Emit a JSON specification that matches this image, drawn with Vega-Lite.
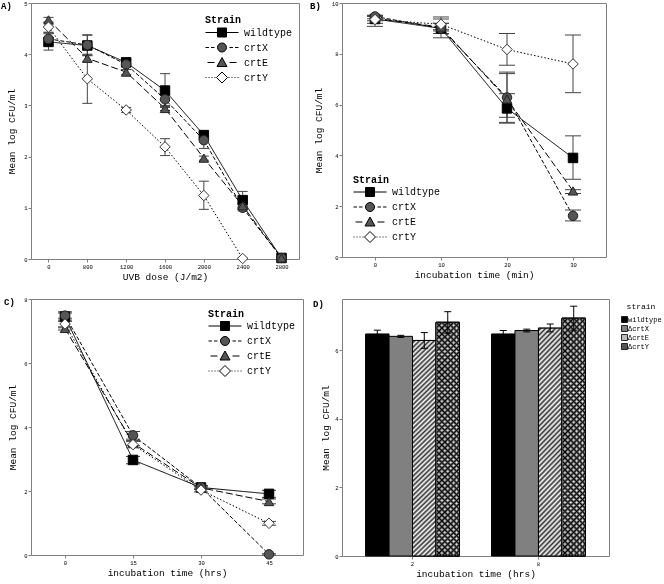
{
  "$schema": "https://vega.github.io/schema/vega-lite/v6.json",
  "padding": 0,
  "background": "white",
  "spacing": 14,
  "datasets": {
    "A": [
      {"strain": "wildtype", "x": 0, "v": 4.24, "lo": 4.08, "hi": 4.40},
      {"strain": "wildtype", "x": 800, "v": 4.17, "lo": 3.97, "hi": 4.37},
      {"strain": "wildtype", "x": 1200, "v": 3.84, "lo": 3.76, "hi": 3.92},
      {"strain": "wildtype", "x": 1600, "v": 3.29, "lo": 2.96, "hi": 3.62},
      {"strain": "wildtype", "x": 2000, "v": 2.42, "lo": 2.36, "hi": 2.48},
      {"strain": "wildtype", "x": 2400, "v": 1.15, "lo": 0.98, "hi": 1.32},
      {"strain": "wildtype", "x": 2800, "v": 0.02, "lo": 0, "hi": 0.04},
      {"strain": "crtX", "x": 0, "v": 4.30, "lo": 4.18, "hi": 4.42},
      {"strain": "crtX", "x": 800, "v": 4.18, "lo": 3.98, "hi": 4.38},
      {"strain": "crtX", "x": 1200, "v": 3.80, "lo": 3.70, "hi": 3.90},
      {"strain": "crtX", "x": 1600, "v": 3.12, "lo": 3.00, "hi": 3.24},
      {"strain": "crtX", "x": 2000, "v": 2.32, "lo": 2.16, "hi": 2.46},
      {"strain": "crtX", "x": 2400, "v": 1.00, "lo": 0.94, "hi": 1.06},
      {"strain": "crtX", "x": 2800, "v": 0.02, "lo": 0, "hi": 0.04},
      {"strain": "crtE", "x": 0, "v": 4.67, "lo": 4.62, "hi": 4.72},
      {"strain": "crtE", "x": 800, "v": 3.92, "lo": 3.86, "hi": 3.98},
      {"strain": "crtE", "x": 1200, "v": 3.65, "lo": 3.60, "hi": 3.70},
      {"strain": "crtE", "x": 1600, "v": 2.94, "lo": 2.90, "hi": 2.98},
      {"strain": "crtE", "x": 2000, "v": 1.97, "lo": 1.93, "hi": 2.01},
      {"strain": "crtE", "x": 2400, "v": 1.04, "lo": 0.98, "hi": 1.10},
      {"strain": "crtE", "x": 2800, "v": 0.02, "lo": 0, "hi": 0.04},
      {"strain": "crtY", "x": 0, "v": 4.53, "lo": 4.43, "hi": 4.63},
      {"strain": "crtY", "x": 800, "v": 3.52, "lo": 3.04, "hi": 4.00},
      {"strain": "crtY", "x": 1200, "v": 2.91, "lo": 2.86, "hi": 2.96},
      {"strain": "crtY", "x": 1600, "v": 2.19, "lo": 2.02, "hi": 2.35},
      {"strain": "crtY", "x": 2000, "v": 1.24, "lo": 0.97, "hi": 1.52},
      {"strain": "crtY", "x": 2400, "v": 0.01, "lo": 0, "hi": 0.02}
    ],
    "B": [
      {"strain": "wildtype", "x": 0, "v": 9.37, "lo": 9.2, "hi": 9.5},
      {"strain": "wildtype", "x": 10, "v": 9.0, "lo": 8.63, "hi": 9.37},
      {"strain": "wildtype", "x": 20, "v": 5.85, "lo": 5.27, "hi": 6.43},
      {"strain": "wildtype", "x": 30, "v": 3.9, "lo": 3.06, "hi": 4.77},
      {"strain": "crtX", "x": 0, "v": 9.47, "lo": 9.38, "hi": 9.52},
      {"strain": "crtX", "x": 10, "v": 9.0, "lo": 8.8, "hi": 9.2},
      {"strain": "crtX", "x": 20, "v": 6.28, "lo": 5.3, "hi": 7.28},
      {"strain": "crtX", "x": 30, "v": 1.62, "lo": 1.42, "hi": 1.85},
      {"strain": "crtE", "x": 0, "v": 9.4, "lo": 9.3, "hi": 9.5},
      {"strain": "crtE", "x": 10, "v": 9.05, "lo": 8.9, "hi": 9.2},
      {"strain": "crtE", "x": 20, "v": 6.22, "lo": 5.5, "hi": 7.22},
      {"strain": "crtE", "x": 30, "v": 2.6, "lo": 2.5, "hi": 2.65},
      {"strain": "crtY", "x": 0, "v": 9.35, "lo": 9.08, "hi": 9.47},
      {"strain": "crtY", "x": 10, "v": 9.16, "lo": 8.95, "hi": 9.45},
      {"strain": "crtY", "x": 20, "v": 8.17, "lo": 7.55, "hi": 8.8},
      {"strain": "crtY", "x": 30, "v": 7.6, "lo": 6.47, "hi": 8.74}
    ],
    "C": [
      {"strain": "wildtype", "x": 0, "v": 7.45, "lo": 7.3, "hi": 7.6},
      {"strain": "wildtype", "x": 15, "v": 2.97, "lo": 2.85, "hi": 3.08},
      {"strain": "wildtype", "x": 30, "v": 2.11, "lo": 2.05, "hi": 2.17},
      {"strain": "wildtype", "x": 45, "v": 1.91, "lo": 1.8, "hi": 2.02},
      {"strain": "crtX", "x": 0, "v": 7.48, "lo": 7.4, "hi": 7.56},
      {"strain": "crtX", "x": 15, "v": 3.74, "lo": 3.62, "hi": 3.86},
      {"strain": "crtX", "x": 30, "v": 2.11, "lo": 2.05, "hi": 2.16},
      {"strain": "crtX", "x": 45, "v": 0.02, "lo": 0, "hi": 0.04},
      {"strain": "crtE", "x": 0, "v": 7.08, "lo": 7.03, "hi": 7.13},
      {"strain": "crtE", "x": 15, "v": 3.5, "lo": 3.42, "hi": 3.58},
      {"strain": "crtE", "x": 30, "v": 2.1, "lo": 2.05, "hi": 2.15},
      {"strain": "crtE", "x": 45, "v": 1.67, "lo": 1.6, "hi": 1.75},
      {"strain": "crtY", "x": 0, "v": 7.22, "lo": 7.1, "hi": 7.34},
      {"strain": "crtY", "x": 15, "v": 3.45, "lo": 3.35, "hi": 3.55},
      {"strain": "crtY", "x": 30, "v": 2.03, "lo": 1.97, "hi": 2.09},
      {"strain": "crtY", "x": 45, "v": 0.99, "lo": 0.93, "hi": 1.05}
    ],
    "D": [
      {"strain": "wildtype", "t": "2", "v": 6.48, "lo": 6.37, "hi": 6.59},
      {"strain": "ΔcrtX", "t": "2", "v": 6.41, "lo": 6.38, "hi": 6.44},
      {"strain": "ΔcrtE", "t": "2", "v": 6.29, "lo": 6.06, "hi": 6.52},
      {"strain": "ΔcrtY", "t": "2", "v": 6.82, "lo": 6.5, "hi": 7.13},
      {"strain": "wildtype", "t": "8", "v": 6.48, "lo": 6.38, "hi": 6.58},
      {"strain": "ΔcrtX", "t": "8", "v": 6.58, "lo": 6.54, "hi": 6.62},
      {"strain": "ΔcrtE", "t": "8", "v": 6.65, "lo": 6.54, "hi": 6.77},
      {"strain": "ΔcrtY", "t": "8", "v": 6.94, "lo": 6.59, "hi": 7.29}
    ]
  },
  "vconcat": [
    {
      "spacing": 9,
      "hconcat": [
        {
          "title": {"text": "A)", "dx": -30},
          "width": 268, "height": 256,
          "data": {"name": "A"},
          "resolve": {"scale": {"shape": "independent", "fill": "independent"}},
          "layer": [
            {"mark": {"type": "line", "color": "#000", "strokeWidth": 1},
             "encoding": {
               "x": {"field": "x", "type": "ordinal", "scale": {"type": "point", "padding": 0.45}, "axis": {"title": "UVB dose (J/m2)", "labelAngle": 0}},
               "y": {"field": "v", "type": "quantitative", "scale": {"domain": [0, 5], "nice": false}, "title": "Mean log CFU/ml", "axis": {"values": [0, 1, 2, 3, 4, 5], "titlePadding": 7}},
               "strokeDash": {"field": "strain", "type": "nominal", "scale": {"domain": ["wildtype", "crtX", "crtE", "crtY"], "range": [[1, 0], [4, 2], [7, 3], [1.5, 2]]}, "legend": null}
             }},
            {"mark": {"type": "rule", "color": "#444", "strokeWidth": 1},
             "encoding": {
               "x": {"field": "x", "type": "ordinal", "scale": {"type": "point", "padding": 0.45}},
               "y": {"field": "lo", "type": "quantitative", "scale": {"domain": [0, 5], "nice": false}, "title": "Mean log CFU/ml"},
               "y2": {"field": "hi"},
               "detail": {"field": "strain"}
             }},
            {"mark": {"type": "tick", "color": "#444", "size": 10, "thickness": 1, "orient": "horizontal", "opacity": 1},
             "encoding": {
               "x": {"field": "x", "type": "ordinal", "scale": {"type": "point", "padding": 0.45}},
               "y": {"field": "lo", "type": "quantitative", "scale": {"domain": [0, 5], "nice": false}, "title": "Mean log CFU/ml"}
             }},
            {"mark": {"type": "tick", "color": "#444", "size": 10, "thickness": 1, "orient": "horizontal", "opacity": 1},
             "encoding": {
               "x": {"field": "x", "type": "ordinal", "scale": {"type": "point", "padding": 0.45}},
               "y": {"field": "hi", "type": "quantitative", "scale": {"domain": [0, 5], "nice": false}, "title": "Mean log CFU/ml"}
             }},
            {"transform": [{"filter": "datum.strain === 'wildtype'"}],
             "mark": {"type": "point", "shape": "square", "filled": true, "opacity": 1, "size": 90, "fill": "#000", "stroke": "#000", "strokeWidth": 1},
             "encoding": {
               "x": {"field": "x", "type": "ordinal", "scale": {"type": "point", "padding": 0.45}},
               "y": {"field": "v", "type": "quantitative", "scale": {"domain": [0, 5], "nice": false}, "title": "Mean log CFU/ml"}
             }},
            {"transform": [{"filter": "datum.strain === 'crtX'"}],
             "mark": {"type": "point", "shape": "circle", "filled": true, "opacity": 1, "size": 90, "fill": "#555", "stroke": "#222", "strokeWidth": 1},
             "encoding": {
               "x": {"field": "x", "type": "ordinal", "scale": {"type": "point", "padding": 0.45}},
               "y": {"field": "v", "type": "quantitative", "scale": {"domain": [0, 5], "nice": false}, "title": "Mean log CFU/ml"}
             }},
            {"transform": [{"filter": "datum.strain === 'crtE'"}],
             "mark": {"type": "point", "shape": "triangle-up", "filled": true, "opacity": 1, "size": 90, "fill": "#555", "stroke": "#222", "strokeWidth": 1},
             "encoding": {
               "x": {"field": "x", "type": "ordinal", "scale": {"type": "point", "padding": 0.45}},
               "y": {"field": "v", "type": "quantitative", "scale": {"domain": [0, 5], "nice": false}, "title": "Mean log CFU/ml"}
             }},
            {"transform": [{"filter": "datum.strain === 'crtY'"}],
             "mark": {"type": "point", "shape": "diamond", "filled": true, "opacity": 1, "size": 110, "fill": "#fff", "stroke": "#333", "strokeWidth": 1},
             "encoding": {
               "x": {"field": "x", "type": "ordinal", "scale": {"type": "point", "padding": 0.45}},
               "y": {"field": "v", "type": "quantitative", "scale": {"domain": [0, 5], "nice": false}, "title": "Mean log CFU/ml"}
             }},
            {"data": {"values": []},
             "mark": {"type": "point", "filled": true, "opacity": 1, "size": 100, "stroke": "#000", "strokeWidth": 1},
             "encoding": {
               "shape": {"field": "strain", "type": "nominal", "scale": {"domain": ["wildtype", "crtX", "crtE", "crtY"], "range": ["M2.3,-1.4L2.3,-1.4M2.3,1.4L2.3,1.4M-1,0H1.4M3.2,0H5.6M1.4,-0.9H3.2V0.9H1.4Z", "M2.3,-1.4L2.3,-1.4M2.3,1.4L2.3,1.4M-1,0H-0.3M0.1,0H0.8M3.8,0H4.5M4.9,0H5.6M3.2,0A0.9,0.9,0,1,1,1.4,0A0.9,0.9,0,1,1,3.2,0Z", "M2.3,-1.4L2.3,-1.4M2.3,1.4L2.3,1.4M-0.6,0H0.8M3.8,0H5.2M2.3,-1L3.3,0.8H1.3Z", "M2.3,-1.4L2.3,-1.4M2.3,1.4L2.3,1.4M-1,0H-0.8M-0.4,0H-0.2M0.2,0H0.4M0.8,0H1M3.6,0H3.8M4.2,0H4.4M4.8,0H5M5.4,0H5.6M2.3,-1.1L3.4,0L2.3,1.1L1.2,0Z"]},
                 "legend": {"title": "Strain", "orient": "none", "legendX": 174, "legendY": 12, "symbolSize": 100, "symbolStrokeWidth": 1, "labelOffset": 28, "rowPadding": -4.1, "titlePadding": 2}},
               "fill": {"field": "strain", "type": "nominal", "scale": {"domain": ["wildtype", "crtX", "crtE", "crtY"], "range": ["#000", "#555", "#555", "#fff"]},
                 "legend": {"title": "Strain", "orient": "none", "legendX": 174, "legendY": 12, "symbolSize": 100, "symbolStrokeWidth": 1, "labelOffset": 28, "rowPadding": -4.1, "titlePadding": 2}}
             }}
          ]
        },
        {
          "title": {"text": "B)", "dx": -32},
          "width": 264, "height": 254,
          "data": {"name": "B"},
          "resolve": {"scale": {"shape": "independent", "fill": "independent"}},
          "layer": [
            {"mark": {"type": "line", "color": "#000", "strokeWidth": 1},
             "encoding": {
               "x": {"field": "x", "type": "quantitative", "scale": {"domain": [-5, 35], "nice": false, "zero": false}, "axis": {"title": "incubation time (min)", "values": [0, 10, 20, 30]}},
               "y": {"field": "v", "type": "quantitative", "scale": {"domain": [0, 10], "nice": false}, "title": "Mean log CFU/ml", "axis": {"values": [0, 2, 4, 6, 8, 10], "titlePadding": 8}},
               "strokeDash": {"field": "strain", "type": "nominal", "scale": {"domain": ["wildtype", "crtX", "crtE", "crtY"], "range": [[1, 0], [4, 2], [7, 3], [1.5, 2]]}, "legend": null}
             }},
            {"mark": {"type": "rule", "color": "#444", "strokeWidth": 1},
             "encoding": {
               "x": {"field": "x", "type": "quantitative", "scale": {"domain": [-5, 35], "nice": false, "zero": false}},
               "y": {"field": "lo", "type": "quantitative", "scale": {"domain": [0, 10], "nice": false}, "title": "Mean log CFU/ml"},
               "y2": {"field": "hi"},
               "detail": {"field": "strain"}
             }},
            {"mark": {"type": "tick", "color": "#444", "size": 16, "thickness": 1, "orient": "horizontal", "opacity": 1},
             "encoding": {
               "x": {"field": "x", "type": "quantitative", "scale": {"domain": [-5, 35], "nice": false, "zero": false}},
               "y": {"field": "lo", "type": "quantitative", "scale": {"domain": [0, 10], "nice": false}, "title": "Mean log CFU/ml"}
             }},
            {"mark": {"type": "tick", "color": "#444", "size": 16, "thickness": 1, "orient": "horizontal", "opacity": 1},
             "encoding": {
               "x": {"field": "x", "type": "quantitative", "scale": {"domain": [-5, 35], "nice": false, "zero": false}},
               "y": {"field": "hi", "type": "quantitative", "scale": {"domain": [0, 10], "nice": false}, "title": "Mean log CFU/ml"}
             }},
            {"transform": [{"filter": "datum.strain === 'wildtype'"}],
             "mark": {"type": "point", "shape": "square", "filled": true, "opacity": 1, "size": 90, "fill": "#000", "stroke": "#000", "strokeWidth": 1},
             "encoding": {
               "x": {"field": "x", "type": "quantitative", "scale": {"domain": [-5, 35], "nice": false, "zero": false}},
               "y": {"field": "v", "type": "quantitative", "scale": {"domain": [0, 10], "nice": false}, "title": "Mean log CFU/ml"}
             }},
            {"transform": [{"filter": "datum.strain === 'crtX'"}],
             "mark": {"type": "point", "shape": "circle", "filled": true, "opacity": 1, "size": 90, "fill": "#555", "stroke": "#222", "strokeWidth": 1},
             "encoding": {
               "x": {"field": "x", "type": "quantitative", "scale": {"domain": [-5, 35], "nice": false, "zero": false}},
               "y": {"field": "v", "type": "quantitative", "scale": {"domain": [0, 10], "nice": false}, "title": "Mean log CFU/ml"}
             }},
            {"transform": [{"filter": "datum.strain === 'crtE'"}],
             "mark": {"type": "point", "shape": "triangle-up", "filled": true, "opacity": 1, "size": 90, "fill": "#555", "stroke": "#222", "strokeWidth": 1},
             "encoding": {
               "x": {"field": "x", "type": "quantitative", "scale": {"domain": [-5, 35], "nice": false, "zero": false}},
               "y": {"field": "v", "type": "quantitative", "scale": {"domain": [0, 10], "nice": false}, "title": "Mean log CFU/ml"}
             }},
            {"transform": [{"filter": "datum.strain === 'crtY'"}],
             "mark": {"type": "point", "shape": "diamond", "filled": true, "opacity": 1, "size": 110, "fill": "#fff", "stroke": "#333", "strokeWidth": 1},
             "encoding": {
               "x": {"field": "x", "type": "quantitative", "scale": {"domain": [-5, 35], "nice": false, "zero": false}},
               "y": {"field": "v", "type": "quantitative", "scale": {"domain": [0, 10], "nice": false}, "title": "Mean log CFU/ml"}
             }},
            {"data": {"values": []},
             "mark": {"type": "point", "filled": true, "opacity": 1, "size": 100, "stroke": "#000", "strokeWidth": 1},
             "encoding": {
               "shape": {"field": "strain", "type": "nominal", "scale": {"domain": ["wildtype", "crtX", "crtE", "crtY"], "range": ["M2.3,-1.4L2.3,-1.4M2.3,1.4L2.3,1.4M-1,0H1.4M3.2,0H5.6M1.4,-0.9H3.2V0.9H1.4Z", "M2.3,-1.4L2.3,-1.4M2.3,1.4L2.3,1.4M-1,0H-0.3M0.1,0H0.8M3.8,0H4.5M4.9,0H5.6M3.2,0A0.9,0.9,0,1,1,1.4,0A0.9,0.9,0,1,1,3.2,0Z", "M2.3,-1.4L2.3,-1.4M2.3,1.4L2.3,1.4M-0.6,0H0.8M3.8,0H5.2M2.3,-1L3.3,0.8H1.3Z", "M2.3,-1.4L2.3,-1.4M2.3,1.4L2.3,1.4M-1,0H-0.8M-0.4,0H-0.2M0.2,0H0.4M0.8,0H1M3.6,0H3.8M4.2,0H4.4M4.8,0H5M5.4,0H5.6M2.3,-1.1L3.4,0L2.3,1.1L1.2,0Z"]},
                 "legend": {"title": "Strain", "orient": "none", "legendX": 11, "legendY": 171.5, "symbolSize": 100, "symbolStrokeWidth": 1, "labelOffset": 28, "rowPadding": -4.1, "titlePadding": 2}},
               "fill": {"field": "strain", "type": "nominal", "scale": {"domain": ["wildtype", "crtX", "crtE", "crtY"], "range": ["#000", "#555", "#555", "#fff"]},
                 "legend": {"title": "Strain", "orient": "none", "legendX": 11, "legendY": 171.5, "symbolSize": 100, "symbolStrokeWidth": 1, "labelOffset": 28, "rowPadding": -4.1, "titlePadding": 2}}
             }}
          ]
        }
      ]
    },
    {
      "spacing": 8,
      "hconcat": [
        {
          "title": {"text": "C)", "dx": -27},
          "width": 272, "height": 256,
          "data": {"name": "C"},
          "resolve": {"scale": {"shape": "independent", "fill": "independent"}},
          "layer": [
            {"mark": {"type": "line", "color": "#000", "strokeWidth": 1},
             "encoding": {
               "x": {"field": "x", "type": "quantitative", "scale": {"domain": [-7.5, 52.5], "nice": false, "zero": false}, "axis": {"title": "incubation time (hrs)", "values": [0, 15, 30, 45]}},
               "y": {"field": "v", "type": "quantitative", "scale": {"domain": [0, 8], "nice": false}, "title": "Mean log CFU/ml", "axis": {"values": [0, 2, 4, 6, 8], "titlePadding": 6}},
               "strokeDash": {"field": "strain", "type": "nominal", "scale": {"domain": ["wildtype", "crtX", "crtE", "crtY"], "range": [[1, 0], [4, 2], [7, 3], [1.5, 2]]}, "legend": null}
             }},
            {"mark": {"type": "rule", "color": "#444", "strokeWidth": 1},
             "encoding": {
               "x": {"field": "x", "type": "quantitative", "scale": {"domain": [-7.5, 52.5], "nice": false, "zero": false}},
               "y": {"field": "lo", "type": "quantitative", "scale": {"domain": [0, 8], "nice": false}, "title": "Mean log CFU/ml"},
               "y2": {"field": "hi"},
               "detail": {"field": "strain"}
             }},
            {"mark": {"type": "tick", "color": "#444", "size": 14, "thickness": 1, "orient": "horizontal", "opacity": 1},
             "encoding": {
               "x": {"field": "x", "type": "quantitative", "scale": {"domain": [-7.5, 52.5], "nice": false, "zero": false}},
               "y": {"field": "lo", "type": "quantitative", "scale": {"domain": [0, 8], "nice": false}, "title": "Mean log CFU/ml"}
             }},
            {"mark": {"type": "tick", "color": "#444", "size": 14, "thickness": 1, "orient": "horizontal", "opacity": 1},
             "encoding": {
               "x": {"field": "x", "type": "quantitative", "scale": {"domain": [-7.5, 52.5], "nice": false, "zero": false}},
               "y": {"field": "hi", "type": "quantitative", "scale": {"domain": [0, 8], "nice": false}, "title": "Mean log CFU/ml"}
             }},
            {"transform": [{"filter": "datum.strain === 'wildtype'"}],
             "mark": {"type": "point", "shape": "square", "filled": true, "opacity": 1, "size": 90, "fill": "#000", "stroke": "#000", "strokeWidth": 1},
             "encoding": {
               "x": {"field": "x", "type": "quantitative", "scale": {"domain": [-7.5, 52.5], "nice": false, "zero": false}},
               "y": {"field": "v", "type": "quantitative", "scale": {"domain": [0, 8], "nice": false}, "title": "Mean log CFU/ml"}
             }},
            {"transform": [{"filter": "datum.strain === 'crtX'"}],
             "mark": {"type": "point", "shape": "circle", "filled": true, "opacity": 1, "size": 90, "fill": "#555", "stroke": "#222", "strokeWidth": 1},
             "encoding": {
               "x": {"field": "x", "type": "quantitative", "scale": {"domain": [-7.5, 52.5], "nice": false, "zero": false}},
               "y": {"field": "v", "type": "quantitative", "scale": {"domain": [0, 8], "nice": false}, "title": "Mean log CFU/ml"}
             }},
            {"transform": [{"filter": "datum.strain === 'crtE'"}],
             "mark": {"type": "point", "shape": "triangle-up", "filled": true, "opacity": 1, "size": 90, "fill": "#555", "stroke": "#222", "strokeWidth": 1},
             "encoding": {
               "x": {"field": "x", "type": "quantitative", "scale": {"domain": [-7.5, 52.5], "nice": false, "zero": false}},
               "y": {"field": "v", "type": "quantitative", "scale": {"domain": [0, 8], "nice": false}, "title": "Mean log CFU/ml"}
             }},
            {"transform": [{"filter": "datum.strain === 'crtY'"}],
             "mark": {"type": "point", "shape": "diamond", "filled": true, "opacity": 1, "size": 110, "fill": "#fff", "stroke": "#333", "strokeWidth": 1},
             "encoding": {
               "x": {"field": "x", "type": "quantitative", "scale": {"domain": [-7.5, 52.5], "nice": false, "zero": false}},
               "y": {"field": "v", "type": "quantitative", "scale": {"domain": [0, 8], "nice": false}, "title": "Mean log CFU/ml"}
             }},
            {"data": {"values": []},
             "mark": {"type": "point", "filled": true, "opacity": 1, "size": 100, "stroke": "#000", "strokeWidth": 1},
             "encoding": {
               "shape": {"field": "strain", "type": "nominal", "scale": {"domain": ["wildtype", "crtX", "crtE", "crtY"], "range": ["M2.3,-1.4L2.3,-1.4M2.3,1.4L2.3,1.4M-1,0H1.4M3.2,0H5.6M1.4,-0.9H3.2V0.9H1.4Z", "M2.3,-1.4L2.3,-1.4M2.3,1.4L2.3,1.4M-1,0H-0.3M0.1,0H0.8M3.8,0H4.5M4.9,0H5.6M3.2,0A0.9,0.9,0,1,1,1.4,0A0.9,0.9,0,1,1,3.2,0Z", "M2.3,-1.4L2.3,-1.4M2.3,1.4L2.3,1.4M-0.6,0H0.8M3.8,0H5.2M2.3,-1L3.3,0.8H1.3Z", "M2.3,-1.4L2.3,-1.4M2.3,1.4L2.3,1.4M-1,0H-0.8M-0.4,0H-0.2M0.2,0H0.4M0.8,0H1M3.6,0H3.8M4.2,0H4.4M4.8,0H5M5.4,0H5.6M2.3,-1.1L3.4,0L2.3,1.1L1.2,0Z"]},
                 "legend": {"title": "Strain", "orient": "none", "legendX": 177, "legendY": 9.5, "symbolSize": 100, "symbolStrokeWidth": 1, "labelOffset": 28, "rowPadding": -4.1, "titlePadding": 2}},
               "fill": {"field": "strain", "type": "nominal", "scale": {"domain": ["wildtype", "crtX", "crtE", "crtY"], "range": ["#000", "#555", "#555", "#fff"]},
                 "legend": {"title": "Strain", "orient": "none", "legendX": 177, "legendY": 9.5, "symbolSize": 100, "symbolStrokeWidth": 1, "labelOffset": 28, "rowPadding": -4.1, "titlePadding": 2}}
             }}
          ]
        },
        {
          "title": {"text": "D)", "dx": -29},
          "width": 267, "height": 257,
          "data": {"name": "D"},
          "resolve": {"scale": {"fill": "independent"}},
          "layer": [
            {"mark": {"type": "bar", "stroke": "#000", "strokeWidth": 1},
             "encoding": {
               "x": {"field": "t", "type": "nominal", "scale": {"paddingInner": 0.254, "paddingOuter": 0.187}, "axis": {"title": "incubation time (hrs)", "labelAngle": 0}},
               "xOffset": {"field": "strain", "type": "nominal", "scale": {"domain": ["wildtype", "ΔcrtX", "ΔcrtE", "ΔcrtY"], "paddingInner": 0, "paddingOuter": 0}},
               "y": {"field": "v", "type": "quantitative", "scale": {"domain": [0, 7.5], "nice": false}, "title": "Mean log CFU/ml", "axis": {"values": [0, 2, 4, 6], "titlePadding": 4}},
               "fill": {"field": "strain", "type": "nominal", "scale": {"domain": ["wildtype", "ΔcrtX", "ΔcrtE", "ΔcrtY"], "range": ["#000", "#808080", "#bbb", "#555"]},
                 "legend": {"title": "strain", "orient": "none", "legendX": 279, "legendY": 4, "symbolType": "square", "symbolSize": 36, "symbolStrokeWidth": 0.8, "labelFontSize": 7, "titleFontSize": 8, "titleFontWeight": "normal", "rowPadding": -2.7, "titlePadding": 5, "labelOffset": 0, "titleAnchor": "middle"}}
             }},
            {"transform": [{"filter": "datum.strain === 'ΔcrtE'"}],
             "mark": {"type": "bar", "stroke": "#000", "strokeWidth": 1,
               "fill": {"gradient": "linear", "x1": 0, "y1": 0, "x2": 0.116, "y2": 1.096, "stops": [
                 {"offset": 0, "color": "#fff"}, {"offset": 0.01, "color": "#333"}, {"offset": 0.02, "color": "#fff"}, {"offset": 0.03, "color": "#333"}, {"offset": 0.04, "color": "#fff"}, {"offset": 0.05, "color": "#333"}, {"offset": 0.06, "color": "#fff"}, {"offset": 0.07, "color": "#333"}, {"offset": 0.08, "color": "#fff"}, {"offset": 0.09, "color": "#333"},
                 {"offset": 0.10, "color": "#fff"}, {"offset": 0.11, "color": "#333"}, {"offset": 0.12, "color": "#fff"}, {"offset": 0.13, "color": "#333"}, {"offset": 0.14, "color": "#fff"}, {"offset": 0.15, "color": "#333"}, {"offset": 0.16, "color": "#fff"}, {"offset": 0.17, "color": "#333"}, {"offset": 0.18, "color": "#fff"}, {"offset": 0.19, "color": "#333"},
                 {"offset": 0.20, "color": "#fff"}, {"offset": 0.21, "color": "#333"}, {"offset": 0.22, "color": "#fff"}, {"offset": 0.23, "color": "#333"}, {"offset": 0.24, "color": "#fff"}, {"offset": 0.25, "color": "#333"}, {"offset": 0.26, "color": "#fff"}, {"offset": 0.27, "color": "#333"}, {"offset": 0.28, "color": "#fff"}, {"offset": 0.29, "color": "#333"},
                 {"offset": 0.30, "color": "#fff"}, {"offset": 0.31, "color": "#333"}, {"offset": 0.32, "color": "#fff"}, {"offset": 0.33, "color": "#333"}, {"offset": 0.34, "color": "#fff"}, {"offset": 0.35, "color": "#333"}, {"offset": 0.36, "color": "#fff"}, {"offset": 0.37, "color": "#333"}, {"offset": 0.38, "color": "#fff"}, {"offset": 0.39, "color": "#333"},
                 {"offset": 0.40, "color": "#fff"}, {"offset": 0.41, "color": "#333"}, {"offset": 0.42, "color": "#fff"}, {"offset": 0.43, "color": "#333"}, {"offset": 0.44, "color": "#fff"}, {"offset": 0.45, "color": "#333"}, {"offset": 0.46, "color": "#fff"}, {"offset": 0.47, "color": "#333"}, {"offset": 0.48, "color": "#fff"}, {"offset": 0.49, "color": "#333"},
                 {"offset": 0.50, "color": "#fff"}, {"offset": 0.51, "color": "#333"}, {"offset": 0.52, "color": "#fff"}, {"offset": 0.53, "color": "#333"}, {"offset": 0.54, "color": "#fff"}, {"offset": 0.55, "color": "#333"}, {"offset": 0.56, "color": "#fff"}, {"offset": 0.57, "color": "#333"}, {"offset": 0.58, "color": "#fff"}, {"offset": 0.59, "color": "#333"},
                 {"offset": 0.60, "color": "#fff"}, {"offset": 0.61, "color": "#333"}, {"offset": 0.62, "color": "#fff"}, {"offset": 0.63, "color": "#333"}, {"offset": 0.64, "color": "#fff"}, {"offset": 0.65, "color": "#333"}, {"offset": 0.66, "color": "#fff"}, {"offset": 0.67, "color": "#333"}, {"offset": 0.68, "color": "#fff"}, {"offset": 0.69, "color": "#333"},
                 {"offset": 0.70, "color": "#fff"}, {"offset": 0.71, "color": "#333"}, {"offset": 0.72, "color": "#fff"}, {"offset": 0.73, "color": "#333"}, {"offset": 0.74, "color": "#fff"}, {"offset": 0.75, "color": "#333"}, {"offset": 0.76, "color": "#fff"}, {"offset": 0.77, "color": "#333"}, {"offset": 0.78, "color": "#fff"}, {"offset": 0.79, "color": "#333"},
                 {"offset": 0.80, "color": "#fff"}, {"offset": 0.81, "color": "#333"}, {"offset": 0.82, "color": "#fff"}, {"offset": 0.83, "color": "#333"}, {"offset": 0.84, "color": "#fff"}, {"offset": 0.85, "color": "#333"}, {"offset": 0.86, "color": "#fff"}, {"offset": 0.87, "color": "#333"}, {"offset": 0.88, "color": "#fff"}, {"offset": 0.89, "color": "#333"},
                 {"offset": 0.90, "color": "#fff"}, {"offset": 0.91, "color": "#333"}, {"offset": 0.92, "color": "#fff"}, {"offset": 0.93, "color": "#333"}, {"offset": 0.94, "color": "#fff"}, {"offset": 0.95, "color": "#333"}, {"offset": 0.96, "color": "#fff"}, {"offset": 0.97, "color": "#333"}, {"offset": 0.98, "color": "#fff"}, {"offset": 0.99, "color": "#333"},
                 {"offset": 1, "color": "#fff"}
               ]}},
             "encoding": {
               "x": {"field": "t", "type": "nominal"},
               "xOffset": {"field": "strain", "type": "nominal", "scale": {"domain": ["wildtype", "ΔcrtX", "ΔcrtE", "ΔcrtY"], "paddingInner": 0, "paddingOuter": 0}},
               "y": {"field": "v", "type": "quantitative", "scale": {"domain": [0, 7.5], "nice": false}, "title": "Mean log CFU/ml"}
             }},
            {"transform": [{"filter": "datum.strain === 'ΔcrtY'"}],
             "mark": {"type": "bar", "stroke": "#000", "strokeWidth": 1,
               "fill": {"gradient": "linear", "x1": 0, "y1": 0, "x2": 0, "y2": 1, "stops": [
                 {"offset": 0, "color": "#fff"}, {"offset": 0.0125, "color": "#000"}, {"offset": 0.025, "color": "#fff"}, {"offset": 0.0375, "color": "#000"}, {"offset": 0.05, "color": "#fff"}, {"offset": 0.0625, "color": "#000"}, {"offset": 0.075, "color": "#fff"}, {"offset": 0.0875, "color": "#000"},
                 {"offset": 0.1, "color": "#fff"}, {"offset": 0.1125, "color": "#000"}, {"offset": 0.125, "color": "#fff"}, {"offset": 0.1375, "color": "#000"}, {"offset": 0.15, "color": "#fff"}, {"offset": 0.1625, "color": "#000"}, {"offset": 0.175, "color": "#fff"}, {"offset": 0.1875, "color": "#000"},
                 {"offset": 0.2, "color": "#fff"}, {"offset": 0.2125, "color": "#000"}, {"offset": 0.225, "color": "#fff"}, {"offset": 0.2375, "color": "#000"}, {"offset": 0.25, "color": "#fff"}, {"offset": 0.2625, "color": "#000"}, {"offset": 0.275, "color": "#fff"}, {"offset": 0.2875, "color": "#000"},
                 {"offset": 0.3, "color": "#fff"}, {"offset": 0.3125, "color": "#000"}, {"offset": 0.325, "color": "#fff"}, {"offset": 0.3375, "color": "#000"}, {"offset": 0.35, "color": "#fff"}, {"offset": 0.3625, "color": "#000"}, {"offset": 0.375, "color": "#fff"}, {"offset": 0.3875, "color": "#000"},
                 {"offset": 0.4, "color": "#fff"}, {"offset": 0.4125, "color": "#000"}, {"offset": 0.425, "color": "#fff"}, {"offset": 0.4375, "color": "#000"}, {"offset": 0.45, "color": "#fff"}, {"offset": 0.4625, "color": "#000"}, {"offset": 0.475, "color": "#fff"}, {"offset": 0.4875, "color": "#000"},
                 {"offset": 0.5, "color": "#fff"}, {"offset": 0.5125, "color": "#000"}, {"offset": 0.525, "color": "#fff"}, {"offset": 0.5375, "color": "#000"}, {"offset": 0.55, "color": "#fff"}, {"offset": 0.5625, "color": "#000"}, {"offset": 0.575, "color": "#fff"}, {"offset": 0.5875, "color": "#000"},
                 {"offset": 0.6, "color": "#fff"}, {"offset": 0.6125, "color": "#000"}, {"offset": 0.625, "color": "#fff"}, {"offset": 0.6375, "color": "#000"}, {"offset": 0.65, "color": "#fff"}, {"offset": 0.6625, "color": "#000"}, {"offset": 0.675, "color": "#fff"}, {"offset": 0.6875, "color": "#000"},
                 {"offset": 0.7, "color": "#fff"}, {"offset": 0.7125, "color": "#000"}, {"offset": 0.725, "color": "#fff"}, {"offset": 0.7375, "color": "#000"}, {"offset": 0.75, "color": "#fff"}, {"offset": 0.7625, "color": "#000"}, {"offset": 0.775, "color": "#fff"}, {"offset": 0.7875, "color": "#000"},
                 {"offset": 0.8, "color": "#fff"}, {"offset": 0.8125, "color": "#000"}, {"offset": 0.825, "color": "#fff"}, {"offset": 0.8375, "color": "#000"}, {"offset": 0.85, "color": "#fff"}, {"offset": 0.8625, "color": "#000"}, {"offset": 0.875, "color": "#fff"}, {"offset": 0.8875, "color": "#000"},
                 {"offset": 0.9, "color": "#fff"}, {"offset": 0.9125, "color": "#000"}, {"offset": 0.925, "color": "#fff"}, {"offset": 0.9375, "color": "#000"}, {"offset": 0.95, "color": "#fff"}, {"offset": 0.9625, "color": "#000"}, {"offset": 0.975, "color": "#fff"}, {"offset": 0.9875, "color": "#000"},
                 {"offset": 1, "color": "#fff"}
               ]}},
             "encoding": {
               "x": {"field": "t", "type": "nominal"},
               "xOffset": {"field": "strain", "type": "nominal", "scale": {"domain": ["wildtype", "ΔcrtX", "ΔcrtE", "ΔcrtY"], "paddingInner": 0, "paddingOuter": 0}},
               "y": {"field": "v", "type": "quantitative", "scale": {"domain": [0, 7.5], "nice": false}, "title": "Mean log CFU/ml"}
             }},
            {"transform": [{"filter": "datum.strain === 'ΔcrtY'"}],
             "mark": {"type": "bar", "strokeWidth": 0, "blend": "difference",
               "fill": {"gradient": "linear", "x1": 0, "y1": 0, "x2": 1, "y2": 0, "stops": [
                 {"offset": 0, "color": "#fff"}, {"offset": 0.125, "color": "#000"}, {"offset": 0.25, "color": "#fff"}, {"offset": 0.375, "color": "#000"}, {"offset": 0.5, "color": "#fff"}, {"offset": 0.625, "color": "#000"}, {"offset": 0.75, "color": "#fff"}, {"offset": 0.875, "color": "#000"}, {"offset": 1, "color": "#fff"}
               ]}},
             "encoding": {
               "x": {"field": "t", "type": "nominal"},
               "xOffset": {"field": "strain", "type": "nominal", "scale": {"domain": ["wildtype", "ΔcrtX", "ΔcrtE", "ΔcrtY"], "paddingInner": 0, "paddingOuter": 0}},
               "y": {"field": "v", "type": "quantitative", "scale": {"domain": [0, 7.5], "nice": false}, "title": "Mean log CFU/ml"}
             }},
            {"transform": [{"filter": "datum.strain === 'ΔcrtY'"}],
             "mark": {"type": "bar", "fill": "transparent", "stroke": "#000", "strokeWidth": 1},
             "encoding": {
               "x": {"field": "t", "type": "nominal"},
               "xOffset": {"field": "strain", "type": "nominal", "scale": {"domain": ["wildtype", "ΔcrtX", "ΔcrtE", "ΔcrtY"], "paddingInner": 0, "paddingOuter": 0}},
               "y": {"field": "v", "type": "quantitative", "scale": {"domain": [0, 7.5], "nice": false}, "title": "Mean log CFU/ml"}
             }},
            {"mark": {"type": "rule", "color": "#000", "strokeWidth": 1},
             "encoding": {
               "x": {"field": "t", "type": "nominal"},
               "xOffset": {"field": "strain", "type": "nominal", "scale": {"domain": ["wildtype", "ΔcrtX", "ΔcrtE", "ΔcrtY"], "paddingInner": 0, "paddingOuter": 0}},
               "y": {"field": "lo", "type": "quantitative", "scale": {"domain": [0, 7.5], "nice": false}, "title": "Mean log CFU/ml"},
               "y2": {"field": "hi"}
             }},
            {"mark": {"type": "tick", "color": "#000", "size": 7, "thickness": 1, "orient": "horizontal", "opacity": 1},
             "encoding": {
               "x": {"field": "t", "type": "nominal"},
               "xOffset": {"field": "strain", "type": "nominal", "scale": {"domain": ["wildtype", "ΔcrtX", "ΔcrtE", "ΔcrtY"], "paddingInner": 0, "paddingOuter": 0}},
               "y": {"field": "lo", "type": "quantitative", "scale": {"domain": [0, 7.5], "nice": false}, "title": "Mean log CFU/ml"}
             }},
            {"mark": {"type": "tick", "color": "#000", "size": 7, "thickness": 1, "orient": "horizontal", "opacity": 1},
             "encoding": {
               "x": {"field": "t", "type": "nominal"},
               "xOffset": {"field": "strain", "type": "nominal", "scale": {"domain": ["wildtype", "ΔcrtX", "ΔcrtE", "ΔcrtY"], "paddingInner": 0, "paddingOuter": 0}},
               "y": {"field": "hi", "type": "quantitative", "scale": {"domain": [0, 7.5], "nice": false}, "title": "Mean log CFU/ml"}
             }}
          ]
        }
      ]
    }
  ],
  "config": {
    "font": "Liberation Mono",
    "view": {"stroke": "#808080", "strokeWidth": 1},
    "axis": {"grid": false, "domain": false, "tickColor": "#808080", "tickSize": 3, "labelFont": "Liberation Mono", "labelFontSize": 5.5, "labelColor": "#000", "labelPadding": 1, "titleFont": "Liberation Mono", "titleFontSize": 9.5, "titleFontWeight": "normal", "titleColor": "#000"},
    "axisX": {"labelPadding": 2, "titlePadding": 2},
    "legend": {"labelFont": "Liberation Mono", "labelFontSize": 10, "titleFont": "Liberation Mono", "titleFontSize": 10, "titleFontWeight": "bold", "padding": 0, "labelColor": "#000", "titleColor": "#000"},
    "title": {"font": "Liberation Mono", "fontSize": 9, "fontWeight": "bold", "anchor": "start", "frame": "group", "offset": -10, "color": "#000"}
  }
}
